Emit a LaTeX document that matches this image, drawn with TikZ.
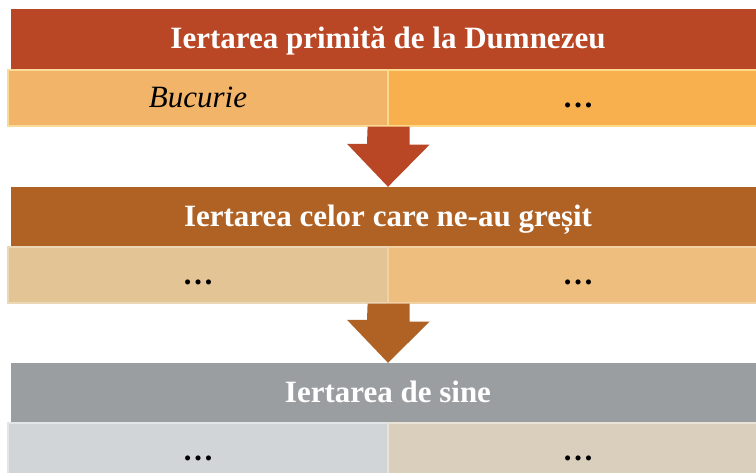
\documentclass[tikz,border=0pt]{standalone}
\usepackage{fontspec}
\setmainfont{Liberation Serif}
\usetikzlibrary{calc}

\definecolor{rust}{RGB}{185,71,37}
\definecolor{brun}{RGB}{176,98,37}
\definecolor{gri}{RGB}{154,158,161}
\definecolor{portA}{RGB}{242,180,104}
\definecolor{portB}{RGB}{248,175,77}
\definecolor{bejA}{RGB}{227,196,149}
\definecolor{bejB}{RGB}{237,190,125}
\definecolor{griA}{RGB}{209,213,216}
\definecolor{griB}{RGB}{217,207,188}

\begin{document}
\begin{tikzpicture}[x=1pt, y=-1pt,
    titlu/.style={rectangle, inner sep=0pt, minimum width=754pt, minimum height=60pt,
        text=white, font=\fontsize{31}{36}\selectfont\bfseries, text height=25pt, text depth=6pt},
    celula/.style={rectangle, inner sep=0pt, minimum width=380pt, minimum height=56pt,
        line width=1.2pt, font=\fontsize{31}{36}\selectfont, text height=25pt, text depth=6pt}]
        \clip (0,0) rectangle (756,472);
        % Nivel 1
        \node[titlu, fill=rust] (t1) at (388,39) {Iertarea primită de la Dumnezeu};
        \node[celula, fill=portA, draw=portA!80!yellow!60!white] (c1a) at (198,98) {\itshape Bucurie};
        \node[celula, fill=portB, draw=portB!80!yellow!60!white] (c1b) at (578,98) {\bfseries …};
        % Nivel 2
        \node[titlu, fill=brun] (t2) at (388,217) {Iertarea celor care ne-au greșit};
        \node[celula, fill=bejA, draw=bejA!70!white] (c2a) at (198,275) {\bfseries …};
        \node[celula, fill=bejB, draw=bejB!70!white] (c2b) at (578,275) {\bfseries …};
        % Nivel 3
        \node[titlu, fill=gri] (t3) at (388,393) {Iertarea de sine};
        \node[celula, fill=griA, draw=griA!60!white] (c3a) at (198,451) {\bfseries …};
        \node[celula, fill=griB, draw=griB!60!white] (c3b) at (578,451) {\bfseries …};

        % sageti
        \fill[rust] ($(c1a.south east)+(-21,0)$) -- ++(42,0) -- ++(0,18) -- ++(20,0)
            -- (t2.north) -- ++(-41,-43) -- ++(20,0) -- cycle;
        \fill[brun] ($(c2a.south east)+(-21,0)$) -- ++(42,0) -- ++(0,18) -- ++(20,0)
            -- (t3.north) -- ++(-41,-43) -- ++(20,0) -- cycle;
    \end{tikzpicture}
\end{document}
